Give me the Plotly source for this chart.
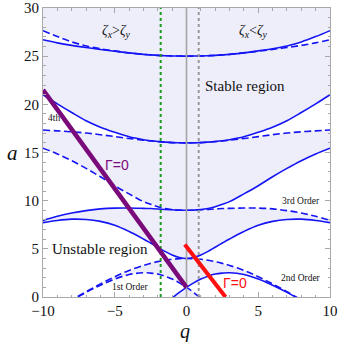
import plotly.graph_objects as go

# q grid (q >= 0); the chart is mirror-symmetric in q
Q_POS = [0, 0.5, 1, 1.5, 2, 2.5, 3, 4, 5, 6, 7, 8, 9, 10]

# characteristic curves (right half)
A1 = [1, 1.47, 1.86, 2.16, 2.38, 2.48, 2.52, 2.33, 1.86, 1.22, 0.48, -0.35, -1.32, -2.40]
B1 = [1, 0.47, -0.11, -0.73, -1.39, -2.08, -2.79, -4.25, -5.79, -7.4, -9.0, -10.6, -12.3, -13.94]
A2 = [4, 4.10, 4.37, 4.74, 5.17, 5.60, 6.02, 6.80, 7.45, 7.85, 8.05, 8.08, 7.95, 7.72]
B2 = [4, 3.98, 3.92, 3.81, 3.67, 3.49, 3.28, 2.76, 2.10, 1.36, 0.55, -0.31, -1.30, -2.38]
A3 = [9, 9.02, 9.08, 9.19, 9.37, 9.62, 9.90, 10.70, 11.55, 12.48, 13.35, 14.15, 14.85, 15.45]
B3 = [9, 9.01, 9.05, 9.09, 9.14, 9.18, 9.20, 9.24, 9.23, 9.15, 8.97, 8.72, 8.38, 7.95]
A4 = [16, 16.01, 16.03, 16.08, 16.14, 16.22, 16.33, 16.63, 17.10, 17.63, 18.30, 19.15, 20.05, 21.0]
B4 = [16, 16.01, 16.03, 16.07, 16.13, 16.20, 16.28, 16.45, 16.65, 16.85, 17.02, 17.15, 17.25, 17.33]
A5 = [25, 25.01, 25.02, 25.05, 25.08, 25.13, 25.19, 25.34, 25.55, 25.77, 26.06, 26.48, 27.03, 27.65]
B5 = [25, 25.01, 25.02, 25.05, 25.08, 25.13, 25.19, 25.34, 25.51, 25.70, 25.90, 26.12, 26.38, 26.70]
ORDERS = [(A1, B1), (A2, B2), (A3, B3), (A4, B4), (A5, B5)]

# vertical reference lines
GREEN_Q = -1.8
GRAY_DOT_Q = 0.85
ZERO_Q = 0.0
V_SPAN = [0, 30]

# Gamma = 0 lines
PURPLE_Q = [-10, 0]
PURPLE_A = [21.5, 1.0]
RED_Q = [-0.12, 2.72]
RED_A = [5.45, 0.0]

X_TICKS = [-10, -5, 0, 5, 10]
X_TICKTEXT = ["\u221210", "\u22125", "0", "5", "10"]
Y_TICKS = [0, 5, 10, 15, 20, 25, 30]

LAVENDER = "#EEEEFB"
BLUE = "#1414F5"
SERIF = "Liberation Serif"

fig = go.Figure()

# unstable tongues (white) between b_n and a_n, both halves
for A, B in ORDERS:
    for sgn in (1, -1):
        xs = [sgn * q for q in Q_POS]
        fig.add_trace(go.Scatter(x=xs, y=B, mode="lines",
                                 line=dict(width=0, shape="spline"),
                                 hoverinfo="skip", showlegend=False))
        fig.add_trace(go.Scatter(x=xs, y=A, mode="lines",
                                 line=dict(width=0, shape="spline"),
                                 fill="tonexty", fillcolor="white",
                                 hoverinfo="skip", showlegend=False))

left_x = [-q for q in Q_POS[::-1]]
full_x = left_x + Q_POS[1:]
for n, (A, B) in enumerate(ORDERS, start=1):
    if n % 2:
        solid_left, dash_left = B, A
    else:
        solid_left, dash_left = A, B
    solid_y = solid_left[::-1] + A[1:]
    dash_y = dash_left[::-1] + B[1:]
    fig.add_trace(go.Scatter(x=full_x, y=dash_y, mode="lines",
                             line=dict(color=BLUE, width=1.6, shape="spline", dash="7px,3.5px"),
                             hoverinfo="skip", showlegend=False))
    fig.add_trace(go.Scatter(x=full_x, y=solid_y, mode="lines",
                             line=dict(color=BLUE, width=1.6, shape="spline"),
                             hoverinfo="skip", showlegend=False))

# vertical lines
fig.add_trace(go.Scatter(x=[ZERO_Q, ZERO_Q], y=V_SPAN, mode="lines",
                         line=dict(color="#A5A5A5", width=1.6), showlegend=False, hoverinfo="skip"))
fig.add_trace(go.Scatter(x=[GRAY_DOT_Q, GRAY_DOT_Q], y=V_SPAN, mode="lines",
                         line=dict(color="#999999", width=2, dash="dot"), showlegend=False, hoverinfo="skip"))
fig.add_trace(go.Scatter(x=[GREEN_Q, GREEN_Q], y=V_SPAN, mode="lines",
                         line=dict(color="#1E9A1E", width=2, dash="dot"), showlegend=False, hoverinfo="skip"))

# Gamma = 0 lines
fig.add_trace(go.Scatter(x=PURPLE_Q, y=PURPLE_A, mode="lines",
                         line=dict(color="#7A0A7A", width=4.5), showlegend=False, hoverinfo="skip"))
fig.add_trace(go.Scatter(x=RED_Q, y=RED_A, mode="lines",
                         line=dict(color="#FF1010", width=4), showlegend=False, hoverinfo="skip"))

def txt(x, y, s, size, color="#111", family=SERIF, **kw):
    fig.add_annotation(x=x, y=y, xref="x", yref="y", text=s, showarrow=False,
                       xanchor="center", yanchor="middle",
                       font=dict(family=family, size=size, color=color), **kw)

txt(-4.9, 27.6, "<i>\u03b6<sub>x</sub></i>&gt;<i>\u03b6<sub>y</sub></i>", 14)
txt(4.7, 27.6, "<i>\u03b6<sub>x</sub></i>&lt;<i>\u03b6<sub>y</sub></i>", 14)
txt(4.05, 21.9, "Stable region", 15)
txt(-6.05, 5.0, "Unstable region", 15)
txt(-3.95, 1.0, "1st Order", 9.5)
txt(8.0, 2.0, "2nd Order", 9.5)
txt(8.0, 9.97, "3rd Order", 9.5)
txt(-9.2, 18.6, "4th", 9.5)
txt(-4.85, 13.75, "\u0393=0", 14, color="#7A0A7A", family="Liberation Sans")
txt(3.35, 1.45, "\u0393=0", 14, color="#FF1010", family="Liberation Sans")

# axis titles
fig.add_annotation(x=-0.108, y=15, xref="paper", yref="y", text="<i>a</i>", showarrow=False,
                   xanchor="center", yanchor="middle",
                   font=dict(family=SERIF, size=21, color="#111"))
fig.add_annotation(x=-0.1, y=-0.118, xref="x", yref="paper", text="<i>q</i>", showarrow=False,
                   xanchor="center", yanchor="middle",
                   font=dict(family=SERIF, size=20, color="#111"))

axis_common = dict(showgrid=False, zeroline=False, showline=True, mirror="ticks",
                   linecolor="#A8A8A8", linewidth=1, ticks="inside", ticklen=5,
                   tickcolor="#A8A8A8", tickwidth=1, automargin=False,
                   tickfont=dict(family=SERIF, size=15, color="#111"))
fig.update_xaxes(range=[-10, 10], tickvals=X_TICKS, ticktext=X_TICKTEXT,
                 minor=dict(dtick=1, ticks="inside", ticklen=2.5, tickcolor="#A8A8A8"),
                 **axis_common)
fig.update_yaxes(range=[0, 30], tickvals=Y_TICKS,
                 minor=dict(dtick=1, ticks="inside", ticklen=2.5, tickcolor="#A8A8A8"),
                 **axis_common)

fig.update_layout(width=339, height=342, margin=dict(l=43, r=9, t=8, b=45, autoexpand=False),
                  plot_bgcolor=LAVENDER, paper_bgcolor="white", showlegend=False)

fig.write_html("out.html", config={"displayModeBar": False},
               post_script="document.body.style.margin='0';")
